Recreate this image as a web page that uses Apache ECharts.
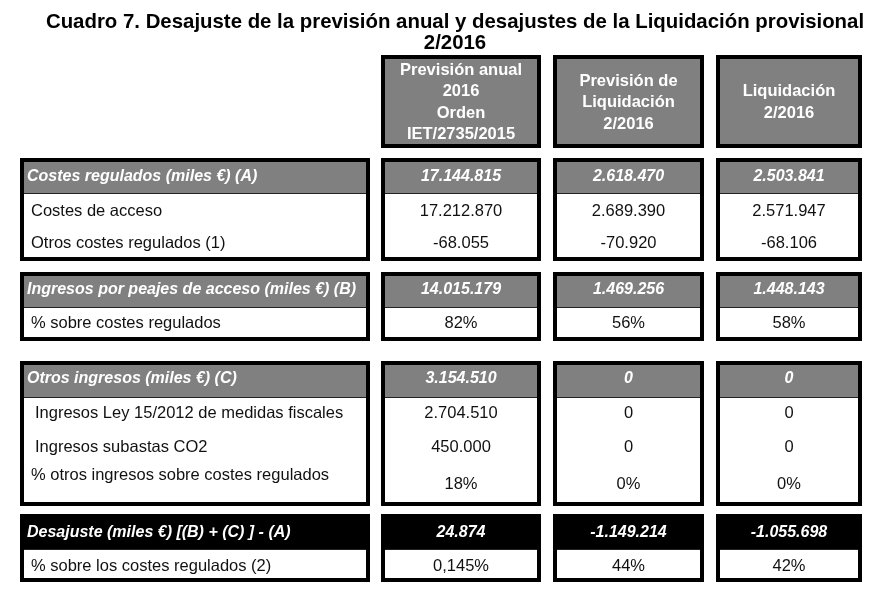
<!DOCTYPE html>
<html><head><meta charset="utf-8">
<script src="https://cdn.jsdelivr.net/npm/echarts@6/dist/echarts.min.js"></script>
<style>html,body{margin:0;padding:0;background:#fff}#c{width:889px;height:592px}</style>
</head><body><div id="c"></div>
<script>
// ---------- DATA ----------
const titleText = 'Cuadro 7. Desajuste de la previsión anual y desajustes de la Liquidación provisional\n2/2016';
const columnHeaders = [
  'Previsión anual\n2016\nOrden\nIET/2735/2015',
  'Previsión de\nLiquidación\n2/2016',
  'Liquidación\n2/2016'
];
const rowLabels = [
  'Costes regulados (miles €) (A)',
  'Costes de acceso',
  'Otros costes regulados (1)',
  'Ingresos por peajes de acceso (miles €) (B)',
  '% sobre costes regulados',
  'Otros ingresos (miles €) (C)',
  'Ingresos Ley 15/2012 de medidas fiscales',
  'Ingresos subastas CO2',
  '% otros ingresos sobre costes regulados',
  'Desajuste (miles €) [(B) + (C) ] - (A)',
  '% sobre los costes regulados (2)'
];
const rowUnit = ['miles','miles','miles','miles','%','miles','miles','miles','%','miles','%'];
const prevision2016 = [17144815, 17212870, -68055, 14015179, 82, 3154510, 2704510, 450000, 18, 24874, 0.145];
const previsionLiq  = [2618470, 2689390, -70920, 1469256, 56, 0, 0, 0, 0, -1149214, 44];
const liquidacion   = [2503841, 2571947, -68106, 1448143, 58, 0, 0, 0, 0, -1055698, 42];
const seriesValues = [prevision2016, previsionLiq, liquidacion];

// ---------- LAYOUT / STYLE ----------
const FONT = '"Liberation Sans", Arial, sans-serif';
const FS = 16.5, FS_HEAD = 16;
const colLeft  = [20, 381, 553, 716];
const colRight = [370, 541, 704, 862];
const headTop = 55, headBottom = 148;
const groupTop    = [158, 272, 361, 514];
const groupBand   = [193, 307, 397, 549];
const groupBottom = [261, 341, 506, 582];
const groupFill = ['#808080', '#808080', '#808080', '#000000'];
const rowIsHeader = [true,false,false,true,false,true,false,false,false,true,false];
const rowLabelY = [177, 211, 243, 290, 323, 379, 413, 447, 475, 533, 566];
const rowValueY = [177, 211, 243, 290, 323, 379, 413, 447, 484, 533, 566];
const rowLabelX = [27, 31, 31, 27, 31, 27, 35, 35, 31, 27, 31];

function fmt(v, unit) {
  if (unit === '%') return String(v).replace('.', ',') + '%';
  const s = Math.abs(v).toString().replace(/\B(?=(\d{3})+(?!\d))/g, '.');
  return (v < 0 ? '-' : '') + s;
}

const boxData = [];
for (let c = 0; c < 4; c++) for (let g = 0; g < 4; g++) boxData.push([c, g]);
const headData = [[1], [2], [3]];
const textData = [];
for (let r = 0; r < rowLabels.length; r++) for (let c = 0; c < 4; c++) textData.push([c, r]);

function txt(text, x, y, align, size, bold, italic, color, lh) {
  const font = (italic ? 'italic ' : '') + (bold ? 'bold ' : '') + size + 'px ' + FONT;
  return { type: 'text', silent: true, style: {
    text: text, x: x, y: y, font: font, fill: color,
    align: align, verticalAlign: 'middle', textAlign: align, textVerticalAlign: 'middle',
    lineHeight: lh || 20
  }};
}

const chart = echarts.init(document.getElementById('c'), null, { renderer: 'canvas' });
chart.setOption({
  animation: false,
  backgroundColor: '#ffffff',
  title: {
    text: titleText, left: 455, top: 12, padding: 0, textAlign: 'center',
    textStyle: { fontFamily: FONT, fontSize: 20.4, fontWeight: 'bold', color: '#000', lineHeight: 21 }
  },
  grid: { left: 0, right: 0, top: 0, bottom: 0 },
  xAxis: { type: 'value', min: 0, max: 889, show: false },
  yAxis: { type: 'value', min: 0, max: 592, inverse: true, show: false },
  series: [
    {
      type: 'custom', clip: false, data: headData,
      renderItem: function (params, api) {
        const c = api.value(0);
        const p1 = api.coord([colLeft[c], headTop]);
        const p2 = api.coord([colRight[c], headBottom]);
        return { type: 'group', children: [
          { type: 'rect', shape: { x: p1[0] + 2, y: p1[1] + 2, width: p2[0] - p1[0] - 4, height: p2[1] - p1[1] - 4 },
            style: { fill: '#808080', stroke: '#000', lineWidth: 4 } },
          txt(columnHeaders[c - 1], (p1[0] + p2[0]) / 2, (p1[1] + p2[1]) / 2 + 1, 'center', FS, true, false, '#fff', 21.5)
        ]};
      }
    },
    {
      type: 'custom', clip: false, data: boxData,
      renderItem: function (params, api) {
        const c = api.value(0), g = api.value(1);
        const p1 = api.coord([colLeft[c], groupTop[g]]);
        const p2 = api.coord([colRight[c], groupBottom[g]]);
        const pb = api.coord([colRight[c], groupBand[g]]);
        return { type: 'group', children: [
          { type: 'rect', shape: { x: p1[0] + 4, y: p1[1] + 4, width: p2[0] - p1[0] - 8, height: pb[1] - p1[1] - 4 },
            style: { fill: groupFill[g] } },
          { type: 'line', shape: { x1: p1[0] + 4, y1: pb[1] + 0.5, x2: p2[0] - 4, y2: pb[1] + 0.5 },
            style: { stroke: '#222', lineWidth: 1 } },
          { type: 'rect', shape: { x: p1[0] + 2, y: p1[1] + 2, width: p2[0] - p1[0] - 4, height: p2[1] - p1[1] - 4 },
            style: { fill: null, stroke: '#000', lineWidth: 4 } }
        ]};
      }
    },
    {
      type: 'custom', clip: false, data: textData, z: 5,
      renderItem: function (params, api) {
        const c = api.value(0), r = api.value(1);
        const head = rowIsHeader[r];
        const color = head ? '#fff' : '#111';
        const size = head ? FS_HEAD : FS;
        if (c === 0) {
          const p = api.coord([rowLabelX[r], rowLabelY[r]]);
          return txt(rowLabels[r], p[0], p[1], 'left', size, head, head, color);
        }
        const p = api.coord([(colLeft[c] + colRight[c]) / 2, rowValueY[r]]);
        return txt(fmt(seriesValues[c - 1][r], rowUnit[r]), p[0], p[1], 'center', size, head, head, color);
      }
    }
  ]
});
</script></body></html>
